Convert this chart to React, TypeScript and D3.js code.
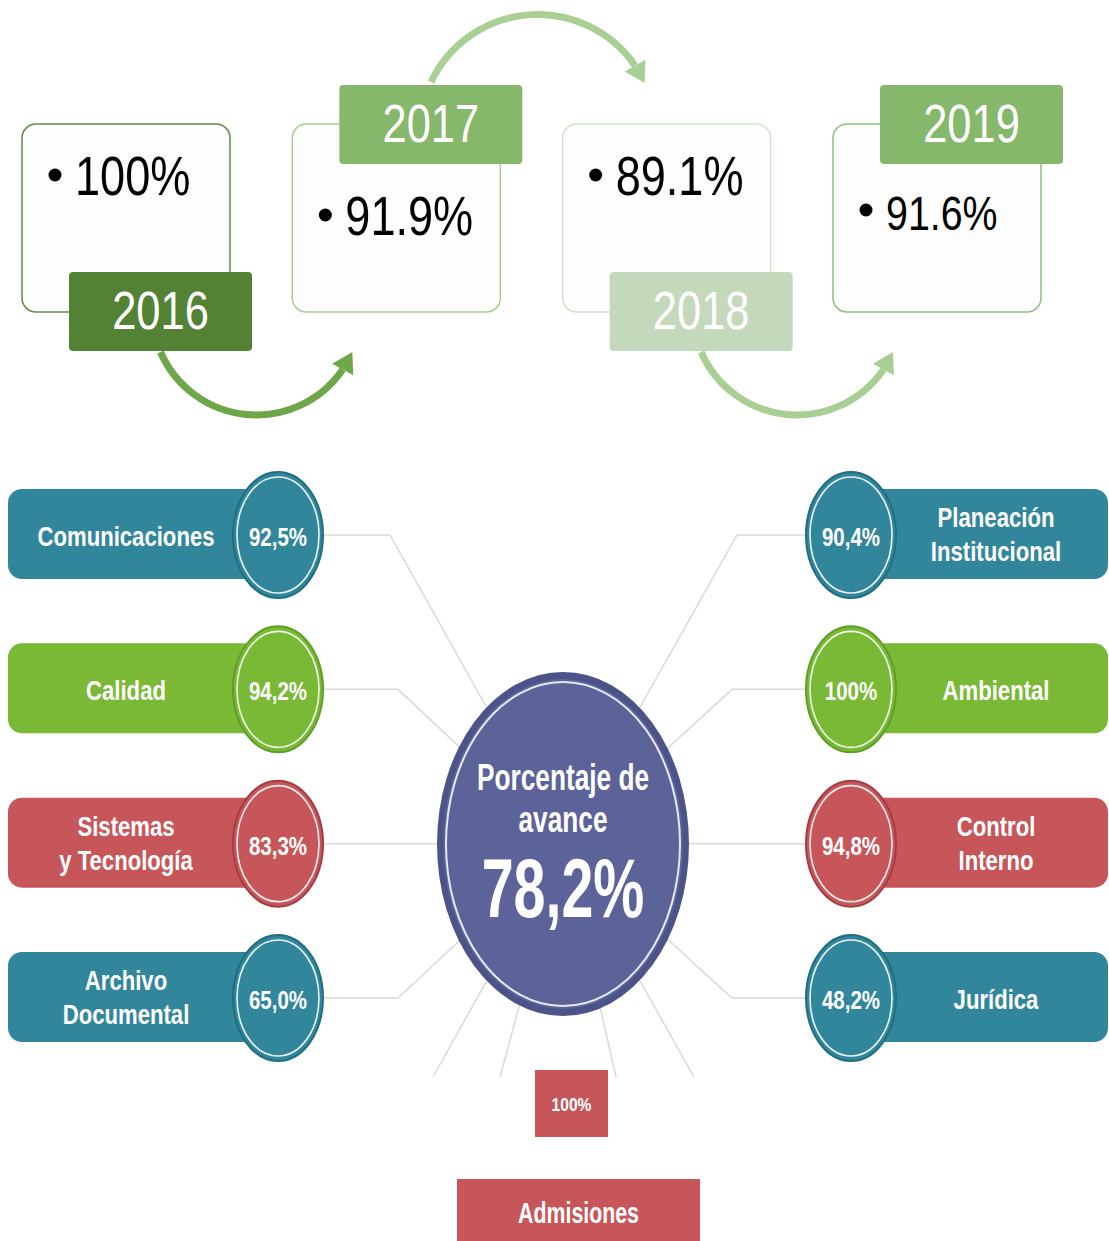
import React from 'react';
import * as d3 from 'd3';

// ---------- data ----------
const years = ['2016', '2017', '2018', '2019'];
const yearValues = ['100%', '91.9%', '89.1%', '91.6%'];

const leftAreas = [['Comunicaciones'], ['Calidad'], ['Sistemas', 'y Tecnología'], ['Archivo', 'Documental']];
const leftValues = ['92,5%', '94,2%', '83,3%', '65,0%'];
const rightAreas = [['Planeación', 'Institucional'], ['Ambiental'], ['Control', 'Interno'], ['Jurídica']];
const rightValues = ['90,4%', '100%', '94,8%', '48,2%'];

const centerTitle = ['Porcentaje de', 'avance'];
const centerValue = '78,2%';
const bottomArea = 'Admisiones';
const bottomValue = '100%';

// ---------- styles ----------
const W = 1109;
const H = 1241;
const FONT = "'Liberation Sans', Arial, sans-serif";
const SX = 0.82;

const boxStroke = ['#5e8c40', '#a6cd90', '#cfe2c6', '#8fc07a'];
const labelFill = ['#548235', '#86b86c', '#c4d9bb', '#86b86c'];
const valueBaseline = [195, 235, 195, 230];
const valueSize = [55, 55, 55, 48];
const arrowColor = ['#6ea648', '#a9cf94', '#a9cf94'];
const arrowEndOffset = [60, 82, 60];

const TEAL = '#32869c';
const GREEN = '#79b935';
const RED = '#c7565a';
const darker: Record<string, string> = { [TEAL]: '#1f6e82', [GREEN]: '#5f9e27', [RED]: '#a33d42' };
const leftColors = [TEAL, GREEN, RED, TEAL];
const rightColors = [TEAL, GREEN, RED, TEAL];
const leftElbow = [390, 398, null, 398];
const rightElbow = [737, 732, null, 732];
const fanEndX = [433, 500, 616, 694];

const CX = 563;
const CY = 844;

function Arrow({ x0, y0, x1, y1, sag, up, color }: any) {
  const h = Math.abs(x1 - x0) / 2;
  const r = (h * h + sag * sag) / (2 * sag);
  const mx = (x0 + x1) / 2;
  const my = (y0 + y1) / 2;
  const cy = up ? my - sag + r : my + sag - r;
  const cx = mx;
  const a0 = Math.atan2(y0 - cy, x0 - cx);
  const a1 = Math.atan2(y1 - cy, x1 - cx);
  const headLen = 20;
  const da = headLen / r;
  const anti = !up;
  const aEnd = anti ? a1 + da : a1 - da;
  const p = d3.path();
  p.arc(cx, cy, r, a0, aEnd, anti);
  const bx = cx + r * Math.cos(aEnd);
  const by = cy + r * Math.sin(aEnd);
  const tx = x1 - bx;
  const ty = y1 - by;
  const len = Math.hypot(tx, ty);
  const nx = -ty / len;
  const ny = tx / len;
  const hw = 12;
  const head = `M${x1},${y1}L${bx + nx * hw},${by + ny * hw}L${bx - nx * hw},${by - ny * hw}Z`;
  return (
    <g>
      <path d={p.toString()} fill="none" stroke={color} strokeWidth={7} />
      <path d={head} fill={color} />
    </g>
  );
}

function SText({ x, y, sx = SX, sy = 1, size, children, weight = 'bold', anchor = 'middle', fill = '#fff' }: any) {
  return (
    <g transform={`translate(${x},${y}) scale(${sx},${sy})`}>
      <text x={0} y={0} fontSize={size} fontWeight={weight} fontFamily={FONT} textAnchor={anchor} fill={fill}>
        {children}
      </text>
    </g>
  );
}

export default function App() {
  const xYear = d3.scalePoint<string>().domain(years).range([22, 833]);
  const yRow = d3.scalePoint<number>().domain(d3.range(4)).range([535, 998]);

  const boxW = 208;
  const boxH = 188;
  const boxY = 124;
  const labW = 183;
  const labH = 79;
  const labX = (i: number) => (xYear(years[i]) as number) + 47;
  const labY = (i: number) => (i % 2 === 0 ? 272 : 85);

  const leftCircleX = 278;
  const rightCircleX = 851;
  const crx = 45;
  const cry = 63;

  return (
    <svg width={W} height={H} style={{ position: 'absolute', left: 0, top: 0, display: 'block', background: '#fff' }}>
      {/* ---------- top timeline ---------- */}
      {years.map((yr, i) => {
        const bx = xYear(yr) as number;
        return (
          <rect key={'b' + yr} x={bx} y={boxY} width={boxW} height={boxH} rx={14} fill="#fdfdfd" stroke={boxStroke[i]} strokeWidth={1.5} />
        );
      })}
      {years.slice(0, 3).map((yr, i) => {
        const x0 = labX(i) + labW / 2;
        const x1 = (xYear(years[i + 1]) as number) + arrowEndOffset[i];
        const up = i % 2 === 1;
        return (
          <Arrow key={'a' + yr} x0={x0} y0={up ? 82 : 352} x1={x1} y1={up ? 83 : 352} sag={up ? 68 : 63} up={up} color={arrowColor[i]} />
        );
      })}
      {years.map((yr, i) => {
        const bx = xYear(yr) as number;
        return (
          <g key={'v' + yr}>
            <circle cx={bx + 33} cy={valueBaseline[i] - 20} r={6.5} fill="#000" />
            <SText x={bx + 53} y={valueBaseline[i]} size={valueSize[i]} weight="normal" anchor="start" fill="#000">
              {yearValues[i]}
            </SText>
          </g>
        );
      })}
      {years.map((yr, i) => (
        <g key={'l' + yr}>
          <rect x={labX(i)} y={labY(i)} width={labW} height={labH} rx={4} fill={labelFill[i]} />
          <SText x={labX(i) + labW / 2} y={labY(i) + 57} size={53} weight="normal">
            {yr}
          </SText>
        </g>
      ))}

      {/* ---------- connectors ---------- */}
      <g fill="none" stroke="#d9d9d9" strokeWidth={1.5}>
        {leftAreas.map((_, i) => {
          const y = yRow(i) as number;
          const e = leftElbow[i];
          const pts: [number, number][] = e == null ? [[leftCircleX + crx, y], [CX, y]] : [[leftCircleX + crx, y], [e, y], [CX, CY]];
          return <path key={'lc' + i} d={d3.line()(pts) as string} />;
        })}
        {rightAreas.map((_, i) => {
          const y = yRow(i) as number;
          const e = rightElbow[i];
          const pts: [number, number][] = e == null ? [[rightCircleX - crx, y], [CX, y]] : [[rightCircleX - crx, y], [e, y], [CX, CY]];
          return <path key={'rc' + i} d={d3.line()(pts) as string} />;
        })}
        {fanEndX.map((x, i) => (
          <path key={'f' + i} d={d3.line()([[CX, CY], [x, 1077]]) as string} />
        ))}
      </g>

      {/* ---------- center ---------- */}
      <ellipse cx={CX} cy={CY} rx={126} ry={172} fill="#4b5388" />
      <ellipse cx={CX} cy={CY} rx={120} ry={165} fill="#5b6399" />
      <ellipse cx={CX} cy={CY} rx={117} ry={162} fill="none" stroke="#e6e8f4" strokeWidth={2} />
      <SText x={CX} y={790} sy={1.17} size={32}>{centerTitle[0]}</SText>
      <SText x={CX} y={832} sy={1.17} size={32}>{centerTitle[1]}</SText>
      <SText x={CX} y={917} sy={1.2} size={70}>{centerValue}</SText>

      {/* ---------- left pills ---------- */}
      {leftAreas.map((lines, i) => {
        const y = yRow(i) as number;
        const c = leftColors[i];
        return (
          <g key={'lp' + i}>
            <rect x={8} y={y - 46} width={leftCircleX - 8} height={90} rx={14} fill={c} />
            <ellipse cx={leftCircleX} cy={y} rx={crx} ry={cry} fill={c} stroke={darker[c]} strokeWidth={2} />
            <ellipse cx={leftCircleX} cy={y} rx={crx - 4} ry={cry - 5} fill="none" stroke="#fff" strokeWidth={1.6} opacity={0.9} />
            <SText x={leftCircleX} y={y + 11} sy={1.05} size={25}>{leftValues[i]}</SText>
            {lines.length === 1 ? (
              <SText x={126} y={y + 11} size={27}>{lines[0]}</SText>
            ) : (
              lines.map((t, k) => (
                <SText key={k} x={126} y={y - 8 + k * 34} size={27}>{t}</SText>
              ))
            )}
          </g>
        );
      })}

      {/* ---------- right pills ---------- */}
      {rightAreas.map((lines, i) => {
        const y = yRow(i) as number;
        const c = rightColors[i];
        return (
          <g key={'rp' + i}>
            <rect x={rightCircleX} y={y - 46} width={1108 - rightCircleX} height={90} rx={14} fill={c} />
            <ellipse cx={rightCircleX} cy={y} rx={crx} ry={cry} fill={c} stroke={darker[c]} strokeWidth={2} />
            <ellipse cx={rightCircleX} cy={y} rx={crx - 4} ry={cry - 5} fill="none" stroke="#fff" strokeWidth={1.6} opacity={0.9} />
            <SText x={rightCircleX} y={y + 11} sy={1.05} size={25}>{rightValues[i]}</SText>
            {lines.length === 1 ? (
              <SText x={996} y={y + 11} size={27}>{lines[0]}</SText>
            ) : (
              lines.map((t, k) => (
                <SText key={k} x={996} y={y - 8 + k * 34} size={27}>{t}</SText>
              ))
            )}
          </g>
        );
      })}

      {/* ---------- bottom ---------- */}
      <rect x={535} y={1070} width={73} height={67} fill={RED} />
      <SText x={571.5} y={1111} size={19}>{bottomValue}</SText>
      <rect x={457} y={1179} width={243} height={62} fill={RED} />
      <SText x={578.5} y={1223} sy={1.1} size={26}>{bottomArea}</SText>
    </svg>
  );
}
